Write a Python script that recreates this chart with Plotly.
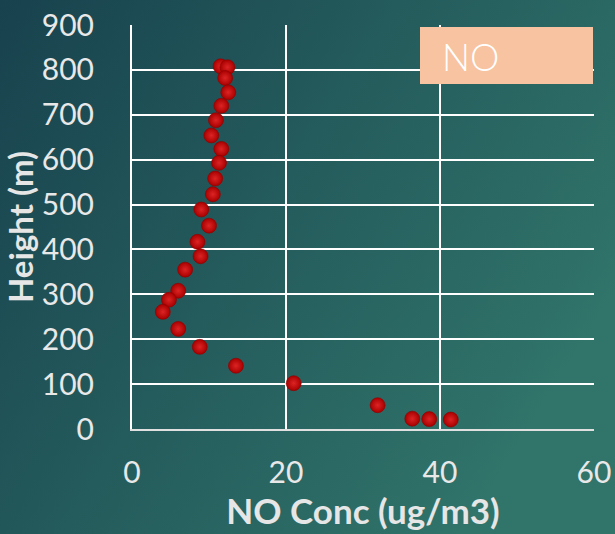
import base64
import plotly.graph_objects as go

# NO concentration profile vs. height
no_conc = [11.5, 12.4, 12.1, 12.5, 11.6, 10.9, 10.3, 11.6, 11.3, 10.8, 10.5, 9.0,
           10.0, 8.5, 8.9, 6.9, 6.0, 4.8, 4.0, 6.0, 8.8, 13.5, 21.0, 31.9, 36.4, 38.6, 41.4]
height_m = [808, 806, 782, 750, 720, 688, 654, 624, 593, 558, 523, 489,
            453, 417, 385, 355, 308, 288, 261, 223, 183, 141, 102, 53, 23, 22, 21]

x_ticks = [0, 20, 40, 60]
y_ticks = [0, 100, 200, 300, 400, 500, 600, 700, 800, 900]
panel_label = "NO"

W, H = 615, 534
L, R, T, B = 132, 21, 25, 105
pw, ph = W - L - R, H - T - B

# teal background gradient as an inline SVG
svg = f"""<svg xmlns='http://www.w3.org/2000/svg' width='{W}' height='{H}' preserveAspectRatio='none'>
<defs><linearGradient id='g' x1='0' y1='0' x2='1' y2='0.55'>
<stop offset='0' stop-color='#18424e'/>
<stop offset='1' stop-color='#30746a'/>
</linearGradient></defs>
<rect width='{W}' height='{H}' fill='url(#g)'/></svg>"""
bg_src = "data:image/svg+xml;base64," + base64.b64encode(svg.encode()).decode()

fig = go.Figure()
fig.add_trace(go.Scatter(
    x=no_conc, y=height_m, mode="markers",
    marker=dict(size=15, color="#a80000",
                gradient=dict(type="radial", color="#dd2424"),
                line=dict(width=0.6, color="#900000")),
    showlegend=False, hoverinfo="x+y",
))

tick_font = dict(family="Lato", size=30, color="#e8e8e8")
title_font = dict(family="Lato", size=35, color="#e6e6e6", weight="bold")

fig.update_layout(
    width=W, height=H,
    margin=dict(l=L, r=R, t=T, b=B, pad=0),
    paper_bgcolor="#1f4f58", plot_bgcolor="rgba(0,0,0,0)",
    images=[dict(source=bg_src, xref="paper", yref="paper",
                 x=-L / pw, y=1 + T / ph, sizex=W / pw, sizey=H / ph,
                 sizing="stretch", xanchor="left", yanchor="top", layer="below")],
    xaxis=dict(range=[0, 60], tickvals=x_ticks, ticks="", tickfont=tick_font,
               showgrid=True, gridcolor="#ffffff", gridwidth=2,
               showline=True, linecolor="#e0e0e0", linewidth=2, zeroline=False,
               ticklabelstandoff=16, automargin=False,
               title=dict(text="NO Conc (ug/m3)", font=title_font, standoff=4)),
    yaxis=dict(range=[0, 900], tickvals=y_ticks, ticks="", tickfont=tick_font,
               showgrid=True, gridcolor="#ffffff", gridwidth=2,
               showline=True, linecolor="#ffffff", linewidth=2, zeroline=False,
               ticklabelstandoff=30, automargin=False,
               title=dict(text="Height (m)", font=dict(family="Lato", size=33, color="#e6e6e6", weight="bold"), standoff=4)),
    shapes=[dict(type="rect", xref="paper", yref="paper",
                 x0=(420 - L) / pw, x1=(593 - L) / pw,
                 y0=(H - B - 84) / ph, y1=(H - B - 27) / ph,
                 fillcolor="#f8c3a0", line=dict(width=0), layer="above")],
    annotations=[dict(text=panel_label, xref="paper", yref="paper",
                      x=(440 - L) / pw, y=(H - B - 57) / ph,
                      xanchor="left", yanchor="middle", showarrow=False,
                      font=dict(family="Lato", size=37, color="#ffffff", weight=300))],
)

fig.write_html("out.html")
